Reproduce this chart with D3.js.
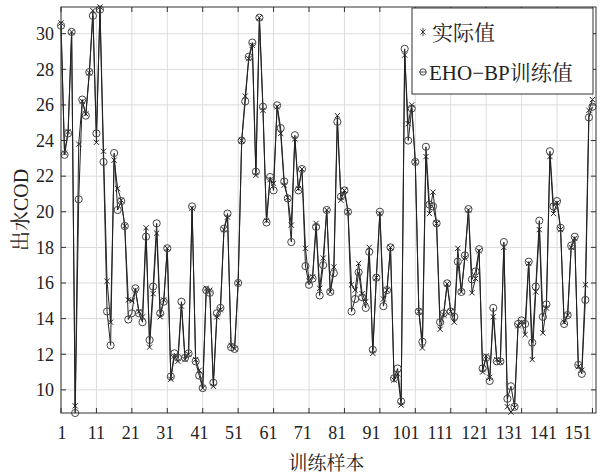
<!DOCTYPE html>
<html>
<head>
<meta charset="utf-8">
<script src="https://cdn.jsdelivr.net/npm/d3@7/dist/d3.min.js"></script>
<style>
body { margin: 0; background: #fff; }
</style>
</head>
<body>
<div id="chart"></div>
<script>
// 实际值 (x markers)
var actual = [30.6, 23.3, 24.5, 30.1, 9.1, 23.8, 26.2, 25.5, 27.8, 31.3,
    23.9, 31.5, 23.4, 16.1, 13.8, 22.9, 21.3, 20.65, 19.2, 15.05,
    15.0, 15.6, 14.4, 14.1, 19.1, 12.4, 15.4, 18.8, 14.1, 15.05,
    17.95, 10.6, 11.9, 11.6, 14.7, 11.7, 12.0, 20.2, 11.7, 11.1,
    10.1, 15.7, 15.6, 10.2, 14.1, 14.5, 19.0, 19.7, 12.5, 12.3,
    16.0, 24.0, 26.5, 28.6, 29.35, 22.05, 30.9, 25.7, 19.5, 21.8,
    21.6, 25.9, 24.4, 21.5, 20.8, 19.25, 24.1, 21.3, 22.4, 17.95,
    16.1, 16.35, 19.35, 15.7, 17.4, 20.1, 15.5, 16.9, 25.4, 20.65,
    21.2, 20.0, 15.9, 15.6, 17.1, 15.4, 14.95, 18.0, 12.05, 16.3,
    19.9, 15.1, 15.6, 18.0, 10.55, 10.9, 9.15, 28.8, 24.95, 26.0,
    22.8, 14.4, 12.35, 23.1, 19.9, 21.1, 19.35, 13.4, 14.2, 15.95,
    14.4, 13.8, 17.95, 15.5, 17.4, 20.1, 15.45, 16.25, 17.8, 11.0,
    11.9, 10.7, 14.1, 11.7, 11.55, 18.0, 9.05, 8.75, 9.0, 13.6,
    13.8, 13.1, 17.1, 11.7, 15.5, 19.0, 13.2, 14.6, 23.1, 19.9,
    20.5, 19.0, 13.8, 14.2, 18.0, 18.5, 11.3, 11.1, 15.9, 25.7,
    26.3];

// EHO-BP训练值 (circle markers)
var predicted = [30.45, 23.2, 24.4, 30.1, 8.7, 20.7, 26.3, 25.4, 27.85, 31.0,
    24.4, 31.35, 22.8, 14.4, 12.5, 23.3, 20.1, 20.6, 19.2, 13.95,
    14.3, 15.7, 14.3, 13.8, 18.6, 12.8, 15.8, 19.35, 14.3, 14.95,
    17.95, 10.75, 12.05, 11.8, 14.95, 11.8, 12.05, 20.3, 11.6, 10.8,
    10.1, 15.6, 15.45, 10.4, 14.3, 14.6, 19.05, 19.9, 12.4, 12.3,
    16.0, 24.0, 26.2, 28.7, 29.5, 22.25, 30.9, 25.9, 19.4, 21.95,
    21.2, 25.98, 24.7, 21.7, 20.75, 18.3, 24.3, 21.2, 22.4, 16.95,
    15.9, 16.25, 19.15, 15.3, 17.0, 20.1, 15.5, 16.55, 25.05, 20.85,
    21.2, 20.0, 14.4, 15.1, 16.6, 15.2, 14.6, 17.75, 12.25, 16.3,
    20.0, 14.7, 15.6, 18.0, 10.65, 11.2, 9.35, 29.15, 24.0, 25.8,
    22.8, 14.4, 12.7, 23.65, 20.4, 20.3, 19.35, 13.8, 14.3, 15.98,
    14.4, 14.1, 17.2, 15.5, 17.55, 20.15, 16.2, 16.65, 17.9, 11.2,
    11.8, 10.5, 14.6, 11.6, 11.6, 18.3, 9.5, 10.2, 9.05, 13.7,
    13.9, 13.7, 17.2, 12.65, 15.8, 19.5, 14.1, 14.8, 23.4, 20.3,
    20.6, 19.1, 13.7, 14.2, 18.1, 18.6, 11.4, 10.9, 15.05, 25.3,
    25.9];

var xTicks = d3.range(1, 152, 10);
var yTicks = d3.range(10, 31, 2);
var legendLabels = ["实际值", "EHO\u2212BP训练值"];
var xTitle = "训练样本";
var yTitle = "出水COD";

var width = 609, height = 475;
var margin = {left: 61, top: 7, right: 13, bottom: 62};
var plotW = width - margin.left - margin.right;
var plotH = height - margin.top - margin.bottom;
var serif = "'Liberation Serif','Times New Roman',serif";
var cjk = "'Liberation Serif','Noto Serif CJK SC','Noto Sans CJK SC',serif";

var svg = d3.select("#chart").append("svg")
    .attr("width", width)
    .attr("height", height);

var g = svg.append("g")
    .attr("transform", "translate(" + margin.left + "," + margin.top + ")");

var x = d3.scaleLinear().domain([1, 152]).range([0, plotW]);
var y = d3.scaleLinear().domain([8.7, 31.5]).range([plotH, 0]);
// tick labels sit slightly left of their ticks in the original
var xLab = d3.scaleLinear().domain([1, 151]).range([1, 517]);

// grid
g.append("g").selectAll("line.gx").data(xTicks).enter().append("line")
    .attr("x1", function(d) { return x(d); })
    .attr("x2", function(d) { return x(d); })
    .attr("y1", 0).attr("y2", plotH)
    .style("stroke", "#dcdcdc").style("stroke-width", 1);
g.append("g").selectAll("line.gy").data(yTicks).enter().append("line")
    .attr("x1", 0).attr("x2", plotW)
    .attr("y1", function(d) { return y(d); })
    .attr("y2", function(d) { return y(d); })
    .style("stroke", "#dcdcdc").style("stroke-width", 1);

// inward ticks on all sides
var tl = 5;
var ticks = g.append("g").style("stroke", "#333").style("stroke-width", 1);
xTicks.forEach(function(d) {
    ticks.append("line").attr("x1", x(d)).attr("x2", x(d)).attr("y1", plotH).attr("y2", plotH - tl);
    ticks.append("line").attr("x1", x(d)).attr("x2", x(d)).attr("y1", 0).attr("y2", tl);
});
yTicks.forEach(function(d) {
    ticks.append("line").attr("x1", 0).attr("x2", tl).attr("y1", y(d)).attr("y2", y(d));
    ticks.append("line").attr("x1", plotW).attr("x2", plotW - tl).attr("y1", y(d)).attr("y2", y(d));
});

// tick labels
g.append("g").selectAll("text").data(xTicks).enter().append("text")
    .attr("x", function(d) { return xLab(d); })
    .attr("y", plotH + 26)
    .attr("text-anchor", "middle")
    .style("font-family", serif).style("font-size", "18px").style("fill", "#222")
    .text(function(d) { return d; });
g.append("g").selectAll("text").data(yTicks).enter().append("text")
    .attr("x", -7)
    .attr("y", function(d) { return y(d); })
    .attr("dy", "0.35em")
    .attr("text-anchor", "end")
    .style("font-family", serif).style("font-size", "18px").style("fill", "#222")
    .text(function(d) { return d; });

// lines
var lineA = d3.line().x(function(d, i) { return x(i + 1); }).y(function(d) { return y(d); });

var data = g.append("g");
data.append("path").datum(predicted).attr("d", lineA)
    .style("fill", "none").style("stroke", "#222").style("stroke-width", 1);
data.append("path").datum(actual).attr("d", lineA)
    .style("fill", "none").style("stroke", "#222").style("stroke-width", 1);

// x markers
var xm = 2.6;
data.selectAll("path.xm").data(actual).enter().append("path")
    .attr("class", "xm")
    .attr("d", function(d, i) {
        var cx = x(i + 1), cy = y(d);
        return "M" + (cx - xm) + "," + (cy - xm) + "L" + (cx + xm) + "," + (cy + xm) +
            "M" + (cx - xm) + "," + (cy + xm) + "L" + (cx + xm) + "," + (cy - xm);
    })
    .style("stroke", "#222").style("stroke-width", 1);

// circle markers
data.selectAll("circle").data(predicted).enter().append("circle")
    .attr("cx", function(d, i) { return x(i + 1); })
    .attr("cy", function(d) { return y(d); })
    .attr("r", 3.6)
    .style("fill", "none").style("stroke", "#444").style("stroke-width", 1);

// frame
g.append("rect").attr("width", plotW).attr("height", plotH)
    .style("fill", "none").style("stroke", "#333").style("stroke-width", 1);

// legend
var lg = svg.append("g").attr("transform", "translate(412,8)");
lg.append("rect").attr("width", 181).attr("height", 86)
    .style("fill", "#fff").style("stroke", "#333").style("stroke-width", 1);
lg.append("path")
    .attr("d", "M8.5,21.5L13.5,26.5M8.5,26.5L13.5,21.5M11,20L11,28")
    .style("stroke", "#333").style("stroke-width", 0.9);
lg.append("circle").attr("cx", 11).attr("cy", 64).attr("r", 3.2)
    .style("fill", "none").style("stroke", "#333").style("stroke-width", 0.9);
lg.append("line").attr("x1", 7.5).attr("x2", 14.5).attr("y1", 64).attr("y2", 64)
    .style("stroke", "#333").style("stroke-width", 0.9);
lg.selectAll("text").data(legendLabels).enter().append("text")
    .attr("x", function(d, i) { return i === 0 ? 20 : 17; })
    .attr("y", function(d, i) { return i === 0 ? 32 : 72; })
    .style("font-family", cjk).style("font-size", "21px").style("fill", "#222")
    .text(function(d) { return d; });

// axis titles
svg.append("text")
    .attr("x", margin.left + plotW / 2 - 2)
    .attr("y", 470)
    .attr("text-anchor", "middle")
    .style("font-family", cjk).style("font-size", "19px").style("fill", "#222")
    .text(xTitle);
svg.append("text")
    .attr("transform", "translate(28,210) rotate(-90)")
    .attr("text-anchor", "middle")
    .style("font-family", cjk).style("font-size", "20px").style("fill", "#222")
    .text(yTitle);
</script>
</body>
</html>
